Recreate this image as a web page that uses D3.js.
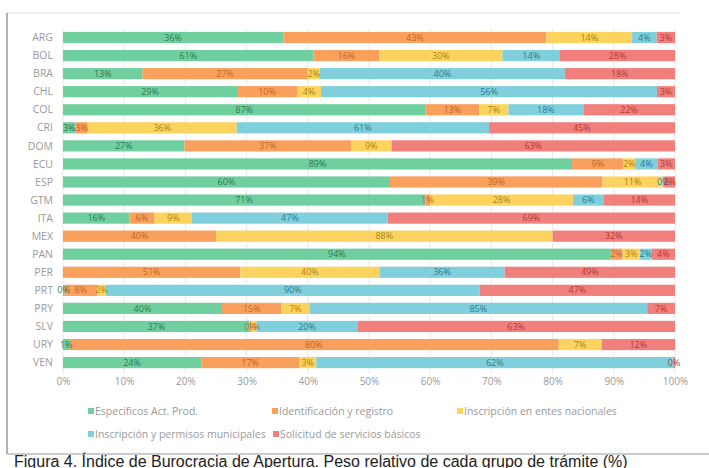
<!DOCTYPE html>
<html><head><meta charset="utf-8">
<script src="https://cdn.jsdelivr.net/npm/d3@7"></script>
<style>body{margin:0;background:#fff}svg{display:block}</style>
</head><body>
<script>
const countries = ["ARG","BOL","BRA","CHL","COL","CRI","DOM","ECU","ESP","GTM","ITA","MEX","PAN","PER","PRT","PRY","SLV","URY","VEN"];
const seriesNames = ["Especificos Act. Prod.","Identificación y registro","Inscripción en entes nacionales","Inscripción y permisos municipales","Solicitud de servicios básicos"];
const especificos   = [36,61,13,29,87,3,27,89,60,71,16,0,94,0,0.3,40,37,1,24];
const identificacion= [43,16,27,10,13,3,37,9,39,1,6,40,2,51,8,15,0.4,80,17];
const entes         = [14,30,2,4,7,36,9,2,11,28,9,88,3,40,2,7,1,7,3];
const municipales   = [4,14,40,56,18,61,0,4,0.3,6,47,0,2,36,90,85,20,0,62];
const servicios     = [3,28,18,3,22,45,63,3,2,14,69,32,4,49,47,7,63,12,0.3];
const xTicks = [0,0.1,0.2,0.3,0.4,0.5,0.6,0.7,0.8,0.9,1];
const caption = "Figura 4. Índice de Burocracia de Apertura. Peso relativo de cada grupo de trámite (%)";

const colors = ["#70cf9f","#f9a05d","#fdd35f","#80cfdc","#f1807c"];
const textColors = ["#2d7a52","#c4661f","#a88412","#2d7d8b","#b43a36"];
const seriesArr = [especificos, identificacion, entes, municipales, servicios];

const W = 709, H = 468;
const svg = d3.select("body").append("svg").attr("width", W).attr("height", H);

// frame
svg.append("line").attr("x1",7).attr("x2",680).attr("y1",13).attr("y2",13).attr("stroke","#ddd");
svg.append("line").attr("x1",7).attr("x2",7).attr("y1",13).attr("y2",454).attr("stroke","#666");
svg.append("line").attr("x1",7).attr("x2",709).attr("y1",454).attr("y2",454).attr("stroke","#999");

const x = d3.scaleLinear().domain([0,1]).range([63,675]);
const y = d3.scaleBand().domain(countries).range([28.5,371.6]).paddingInner(0.38).paddingOuter(0.19);

// grid
svg.append("g").selectAll("line").data(xTicks).join("line")
  .attr("x1",d=>x(d)).attr("x2",d=>x(d)).attr("y1",28).attr("y2",374)
  .attr("stroke","#e8e8e8").attr("stroke-width",1);

// data rows
const rows = countries.map((c,i)=>{
  const vals = seriesArr.map(s=>s[i]);
  const tot = d3.sum(vals);
  let cum = 0;
  return vals.map((v,k)=>{ const r={c,k,v,x0:cum/tot,x1:(cum+v)/tot}; cum+=v; return r; });
});
const segs = rows.flat();

svg.append("g").selectAll("rect").data(segs.filter(d=>d.v>0)).join("rect")
  .attr("x",d=>x(d.x0)).attr("width",d=>x(d.x1)-x(d.x0))
  .attr("y",d=>y(d.c)).attr("height",y.bandwidth())
  .attr("fill",d=>colors[d.k]);

svg.append("g").selectAll("text").data(segs.filter(d=>d.v>0)).join("text")
  .attr("x",d=>(x(d.x0)+x(d.x1))/2).attr("y",d=>y(d.c)+y.bandwidth()/2)
  .attr("dy","0.35em").attr("text-anchor","middle")
  .attr("font-family","Open Sans, sans-serif").attr("font-size",9)
  .attr("fill",d=>textColors[d.k])
  .text(d=>Math.round(d.v)+"%");

// y axis labels
svg.append("g").selectAll("text").data(countries).join("text")
  .attr("x",53).attr("y",d=>y(d)+y.bandwidth()/2).attr("dy","0.35em")
  .attr("text-anchor","end").attr("font-family","Open Sans, sans-serif")
  .attr("font-size",10.5).attr("fill","#9a9a9a").text(d=>d);

// x axis
const xa = svg.append("g").attr("transform","translate(0,378)")
  .call(d3.axisBottom(x).tickValues(xTicks).tickFormat(d3.format(".0%")).tickSize(0).tickPadding(0));
xa.select(".domain").remove();
xa.selectAll("text").attr("font-family","Open Sans, sans-serif").attr("font-size",10).attr("fill","#9a9a9a").attr("dy","0.71em");

// legend
const legendPos = [[88,411],[272,411],[457,411],[88,434],[273,434]];
const lg = svg.append("g").selectAll("g").data(seriesNames).join("g")
  .attr("transform",(d,i)=>`translate(${legendPos[i][0]},${legendPos[i][1]})`);
lg.append("rect").attr("x",0).attr("y",-3).attr("width",6).attr("height",6).attr("fill",(d,i)=>colors[i]);
lg.append("text").attr("x",7).attr("dy","0.35em").attr("font-family","Open Sans, sans-serif")
  .attr("font-size",10.5).attr("fill","#9a9a9a").text(d=>d);

// caption
svg.append("text").attr("x",14).attr("y",467).attr("font-family","Liberation Sans, Arial, sans-serif")
  .attr("font-size",16).attr("fill","#222").text(caption);
</script>
</body></html>
